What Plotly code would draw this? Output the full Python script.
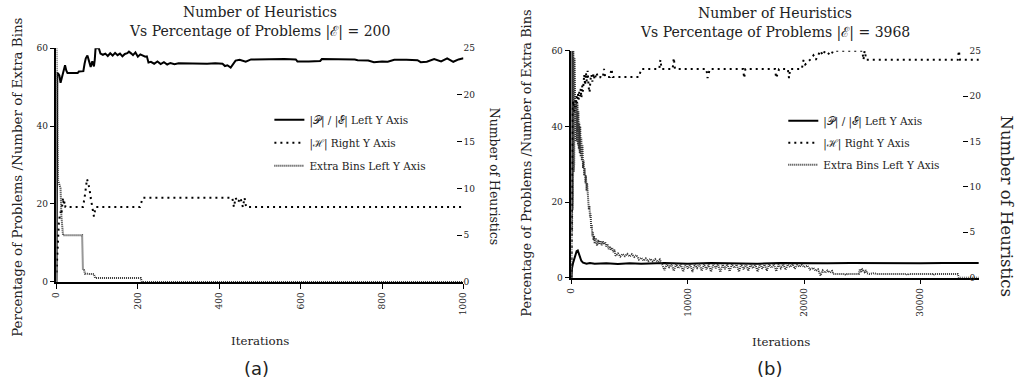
import plotly.graph_objects as go

# ---------------- data: panel (a), |E| = 200 ----------------
pe_a = [(0, 0), (1, 40), (2, 53.6), (4, 53.5), (7, 53.0), (10, 51.1), (12, 52.0), (15, 53.4),
        (18, 55.0), (21, 55.6), (24, 54.3), (27, 53.6), (40, 53.6), (52, 53.6), (55, 54.0),
        (66, 54.1), (69, 56.0), (72, 57.4), (76, 58.1), (79, 57.2), (84, 55.2), (88, 56.6),
        (92, 55.3), (94, 57.0), (96, 60.0), (104, 60.0), (108, 58.6), (114, 58.3), (120, 58.6),
        (126, 58.0), (132, 58.7), (138, 58.1), (144, 58.8), (150, 58.2), (156, 58.6), (162, 57.9),
        (168, 58.5), (174, 58.7), (178, 59.1), (184, 58.6), (188, 58.2), (194, 58.9), (200, 57.8),
        (206, 58.4), (212, 58.0), (218, 57.8), (222, 57.9), (226, 56.3), (232, 56.5), (240, 56.0),
        (248, 56.6), (256, 55.9), (264, 56.4), (272, 55.8), (280, 56.2), (290, 55.9), (300, 56.1),
        (330, 56.0), (350, 56.1), (370, 56.0), (390, 56.1), (408, 56.0), (414, 55.4), (420, 55.6),
        (428, 55.0), (434, 56.0), (440, 56.8), (450, 57.0), (465, 56.5), (478, 57.1), (520, 57.2),
        (560, 57.2), (588, 57.1), (592, 56.6), (620, 56.6), (648, 56.7), (652, 57.2), (700, 57.2),
        (733, 57.1), (740, 56.9), (766, 56.8), (780, 56.4), (800, 56.6), (814, 56.5), (830, 57.0),
        (860, 57.0), (887, 56.9), (895, 56.4), (910, 56.5), (928, 57.2), (945, 56.6), (960, 57.4),
        (975, 56.5), (988, 57.1), (1000, 57.4)]

h_a = [(0, 1), (2, 3), (4, 5), (6, 6.5), (8, 7.0), (10, 7.5), (12, 7.2), (14, 8.5), (16, 9.0),
       (18, 8.2), (20, 8.6), (22, 8.0), (65, 8.0), (69, 9.0), (72, 10.0), (75, 11.0), (78, 10.5),
       (81, 10.0), (84, 9.0), (88, 8.0), (92, 7.0), (96, 8.0), (205, 8.0), (212, 9.0), (432, 9.0),
       (436, 8.0), (440, 9.0), (446, 8.5), (452, 9.0), (458, 8.0), (462, 9.0), (466, 8.0),
       (1000, 8.0)]

eb_a = [(0, 60), (1, 45), (2, 30), (4, 26), (7, 25), (10, 24), (12, 17), (14, 13), (16, 12),
        (63, 12), (65, 3.1), (68, 3.0), (70, 2.1), (92, 2.0), (95, 1.0), (207, 1.0), (210, 0),
        (1000, 0)]

# ---------------- data: panel (b), |E| = 3968 ----------------
pe_b = [(0, 0), (50, 2.5), (150, 4.0), (300, 5.5), (450, 7.0), (550, 7.2), (700, 6.0),
        (850, 4.5), (1000, 4.0), (1300, 3.7), (1600, 3.9), (2000, 3.7), (3000, 3.8), (4000, 3.6),
        (5000, 3.8), (6000, 3.7), (8000, 3.9), (10000, 3.7), (12000, 3.9), (14000, 3.8),
        (16000, 3.7), (18000, 3.9), (20000, 3.8), (22000, 3.8), (24000, 3.9), (26000, 3.8),
        (28000, 3.9), (30000, 3.8), (32000, 3.9), (34000, 3.8), (35000, 3.9)]

h_b = [(0, 0), (30, 10), (60, 16), (100, 18.5), (150, 19.5), (200, 19.0), (260, 18.3),
       (320, 19.5), (380, 18.8), (440, 20.0), (500, 19.2), (560, 20.3), (620, 19.6), (680, 20.5),
       (740, 20.0), (800, 20.8), (860, 19.8), (920, 21.2), (980, 20.5), (1050, 21.5),
       (1100, 22.4), (1180, 21.2), (1250, 22.6), (1320, 21.6), (1400, 22.8), (1480, 21.0),
       (1560, 20.4), (1640, 21.8), (1720, 22.4), (1800, 21.6), (1900, 22.5), (2000, 21.8),
       (2150, 22.6), (2300, 22.0), (2500, 22.1), (2700, 22.0), (2800, 23.0), (2900, 22.1),
       (3300, 22.1), (3450, 23.0), (3550, 22.1), (5800, 22.1), (6000, 23.0), (7550, 23.0),
       (7650, 24.0), (7750, 23.0), (8700, 23.0), (8800, 24.2), (8900, 23.0), (11600, 23.0),
       (11700, 22.0), (11800, 22.5), (11900, 23.0), (14750, 23.0), (14850, 22.0), (14950, 23.0),
       (17500, 23.0), (17600, 22.0), (17750, 22.5), (17850, 23.0), (18600, 23.0), (18700, 22.0),
       (18800, 23.0), (19800, 23.0), (19950, 24.0), (20100, 23.5), (20500, 24.0), (20800, 24.5),
       (21000, 24.0), (21400, 25.0), (21600, 24.5), (21800, 25.0), (22300, 24.5), (22500, 25.0),
       (25000, 25.0), (25100, 24.0), (25200, 25.0), (25350, 24.0), (33200, 24.0), (33300, 25.0),
       (33400, 24.0), (35000, 24.0)]

eb_b = [(0, 0), (15, 60), (30, 5), (45, 60), (60, 12), (80, 60), (100, 18), (120, 60),
        (140, 22), (165, 60), (190, 28), (215, 60), (240, 30), (270, 58), (300, 36), (330, 47),
        (360, 36), (390, 47), (420, 37), (450, 47), (480, 36), (520, 46), (560, 35), (600, 44),
        (640, 34), (680, 41), (720, 33), (760, 40), (800, 32), (850, 37), (900, 31), (950, 35),
        (1000, 29), (1050, 31), (1100, 27), (1150, 29), (1200, 25), (1250, 27), (1300, 23),
        (1350, 25), (1400, 21), (1450, 22), (1500, 18), (1550, 19), (1600, 16), (1650, 17),
        (1700, 13), (1750, 14), (1800, 11), (1850, 12), (1900, 10), (1950, 11), (2000, 9),
        (2100, 10.5), (2200, 8.5), (2300, 10), (2400, 8.8), (2500, 9.8), (2600, 8.6), (2700, 9.6),
        (2800, 8.8), (2900, 9.4), (3000, 8.2), (3100, 8.9), (3200, 7.6), (3300, 8.3), (3400, 7.4),
        (3500, 8.0), (3600, 6.8), (3700, 7.4), (3800, 5.8), (4000, 6.4), (4200, 5.6), (4400, 6.3),
        (4600, 5.7), (4800, 6.3), (5000, 5.6), (5200, 6.2), (5400, 5.5), (5600, 6.0), (5800, 4.8),
        (6000, 5.3), (6200, 4.5), (6400, 5.1), (6600, 4.4), (6800, 5.0), (7000, 4.3), (7200, 4.9),
        (7400, 4.2), (7600, 4.8), (7800, 3.5), (8000, 2.0), (8200, 3.6), (8400, 2.8), (8600, 3.6),
        (8800, 1.8), (9000, 3.6), (9200, 2.5), (9400, 3.5), (9600, 1.6), (9800, 3.6), (10000, 2.4),
        (10200, 3.6), (10400, 1.5), (10600, 3.5), (10800, 2.6), (11000, 3.6), (11200, 1.8),
        (11400, 3.6), (11600, 2.2), (11800, 3.5), (12000, 1.6), (12200, 3.6), (12400, 2.5),
        (12600, 3.6), (12800, 1.5), (13000, 3.5), (13200, 2.3), (13400, 3.6), (13600, 1.7),
        (13800, 3.6), (14000, 2.6), (14200, 3.5), (14400, 1.6), (14600, 3.6), (14800, 2.2),
        (15000, 3.6), (15200, 1.8), (15400, 3.5), (15600, 2.5), (15800, 3.6), (16000, 1.6),
        (16200, 3.6), (16400, 2.4), (16600, 3.5), (16800, 1.9), (17000, 3.6), (17200, 2.6),
        (17400, 3.6), (17600, 1.7), (17800, 3.5), (18000, 2.5), (18200, 3.6), (18400, 2.1),
        (18600, 3.5), (18800, 2.8), (19000, 3.6), (19200, 2.4), (19400, 3.4), (19600, 2.9),
        (19800, 3.4), (20000, 2.8), (20300, 3.2), (20500, 2.2), (20800, 2.6), (21000, 1.8),
        (21200, 2.2), (21400, 0.6), (21600, 1.9), (21800, 1.3), (22000, 1.9), (22200, 1.4),
        (22400, 1.8), (22500, 1.0), (23500, 1.0), (23600, 0.7), (23700, 1.0), (24700, 1.0),
        (24800, 2.3), (24900, 1.6), (25000, 2.2), (25200, 1.5), (25300, 2.0), (25400, 1.2),
        (25600, 1.0), (26000, 1.2), (26200, 1.0), (28800, 1.0), (28900, 0.7), (29000, 1.0),
        (31000, 1.0), (31100, 0.7), (31200, 1.0), (33200, 1.0), (33300, 0), (35000, 0)]

x_ticks_a = [0, 200, 400, 600, 800, 1000]
x_ticks_b = [0, 10000, 20000, 30000]
left_ticks = [0, 20, 40, 60]
right_ticks = [0, 5, 10, 15, 20, 25]

names = ["|\U0001D4AB| / |\u2130| Left Y Axis", "|\u210B| Right Y Axis", "Extra Bins Left Y Axis"]
titles_a = ["Number of Heuristics", "Vs Percentage of Problems |\u2130| = 200"]
titles_b = ["Number of Heuristics", "Vs Percentage of Problems |\u2130| = 3968"]


def xs(p):
    return [a for a, _ in p]


def ys(p):
    return [b for _, b in p]


SERIF = "DejaVu Serif"
TXT = "#222222"
W, H = 1021, 385

solid = dict(color="black", width=2)
dotted = dict(color="black", width=2, dash="2px,4px")
fine = dict(color="#333333", width=2, dash="1px,1px")

fig = go.Figure()
# panel (a)
fig.add_trace(go.Scatter(x=xs(pe_a), y=ys(pe_a), mode="lines", line=solid, name=names[0],
                         xaxis="x", yaxis="y", legend="legend", legendgroup="a1"))
fig.add_trace(go.Scatter(x=xs(h_a), y=ys(h_a), mode="lines", line=dotted, name=names[1],
                         xaxis="x", yaxis="y2", legend="legend", legendgroup="a2"))
fig.add_trace(go.Scatter(x=xs(eb_a), y=ys(eb_a), mode="lines", line=fine, name=names[2],
                         xaxis="x", yaxis="y", legend="legend", legendgroup="a3"))
# panel (b)
fig.add_trace(go.Scatter(x=xs(pe_b), y=ys(pe_b), mode="lines", line=solid, name=names[0],
                         xaxis="x2", yaxis="y3", legend="legend2", legendgroup="b1"))
fig.add_trace(go.Scatter(x=xs(h_b), y=ys(h_b), mode="lines", line=dotted, name=names[1],
                         xaxis="x2", yaxis="y4", legend="legend2", legendgroup="b2"))
fig.add_trace(go.Scatter(x=xs(eb_b), y=ys(eb_b), mode="lines", line=fine, name=names[2],
                         xaxis="x2", yaxis="y3", legend="legend2", legendgroup="b3"))


def px_x(p):
    return p / W


def px_y(p):
    return 1 - p / H


tickfont = dict(family=SERIF, size=9, color=TXT)

xcommon = dict(showline=True, linecolor="black", linewidth=1.5, ticks="outside", ticklen=5,
               tickcolor="black", tickangle=-90, showgrid=False, zeroline=False,
               tickfont=tickfont, tickformat="d")
ycommon = dict(showline=True, linecolor="black", linewidth=1.5, ticks="outside", ticklen=5,
               tickcolor="black", showgrid=False, zeroline=False, tickfont=tickfont)
rcommon = dict(showline=False, ticks="inside", ticklen=5, tickcolor="black", showgrid=False,
               zeroline=False, tickfont=tickfont, side="right")

legfont = dict(family=SERIF, size=10.5, color=TXT)

fig.update_layout(
    width=W, height=H, margin=dict(l=0, r=0, t=0, b=0),
    paper_bgcolor="white", plot_bgcolor="white",
    xaxis=dict(xcommon, domain=[px_x(52), px_x(463)], range=[0, 1000], tickvals=x_ticks_a,
               anchor="y"),
    yaxis=dict(ycommon, domain=[px_y(284.3), px_y(44.3)], range=[0, 60], tickvals=left_ticks,
               anchor="x"),
    yaxis2=dict(rcommon, overlaying="y", range=[0, 25], tickvals=right_ticks, anchor="free",
                position=px_x(462)),
    xaxis2=dict(xcommon, domain=[px_x(572), px_x(984)], range=[0, 35060], tickvals=x_ticks_b,
                anchor="y3"),
    yaxis3=dict(ycommon, domain=[px_y(280), px_y(47)], range=[0, 60], tickvals=left_ticks,
                anchor="x2"),
    yaxis4=dict(rcommon, overlaying="y3", range=[0, 25], tickvals=right_ticks, anchor="free",
                position=px_x(973)),
    legend=dict(x=px_x(267), y=px_y(103), xanchor="left", yanchor="top", tracegroupgap=4,
                bgcolor="rgba(0,0,0,0)", font=legfont),
    legend2=dict(x=px_x(786), y=px_y(104), xanchor="left", yanchor="top", tracegroupgap=3,
                 bgcolor="rgba(0,0,0,0)", font=legfont),
    showlegend=True,
)

ann = []


def add_text(text, x, y, size, angle=0, family=SERIF):
    ann.append(dict(text=text, x=px_x(x), y=px_y(y), xref="paper", yref="paper",
                    xanchor="center", yanchor="middle", showarrow=False, textangle=angle,
                    font=dict(family=family, size=size, color=TXT)))


add_text(titles_a[0], 257.5, 7, 14)
add_text(titles_a[1], 257.5, 27, 14)
add_text(titles_b[0], 778, 8.5, 14)
add_text(titles_b[1], 778, 28, 14)
add_text("Iterations", 258, 345, 11.8)
add_text("Iterations", 784, 345.5, 11.8)
add_text("Percentage of Problems /Number of Extra Bins", 13, 176.5, 13.4, -90)
add_text("Percentage of Problems /Number of Extra Bins", 527, 162, 12.9, -90)
add_text("Number of Heuristics", 494, 176.5, 12.5, 90)
add_text("Number of Heuristics", 1011, 206, 16.5, 90)
add_text("(a)", 253.5, 373, 18, 0, "DejaVu Sans")
add_text("(b)", 772, 373, 18, 0, "DejaVu Sans")
fig.update_layout(annotations=ann)

fig.write_html("out.html", config={"displayModeBar": False},
               post_script="document.body.style.margin='0';document.body.style.overflow='hidden';")
